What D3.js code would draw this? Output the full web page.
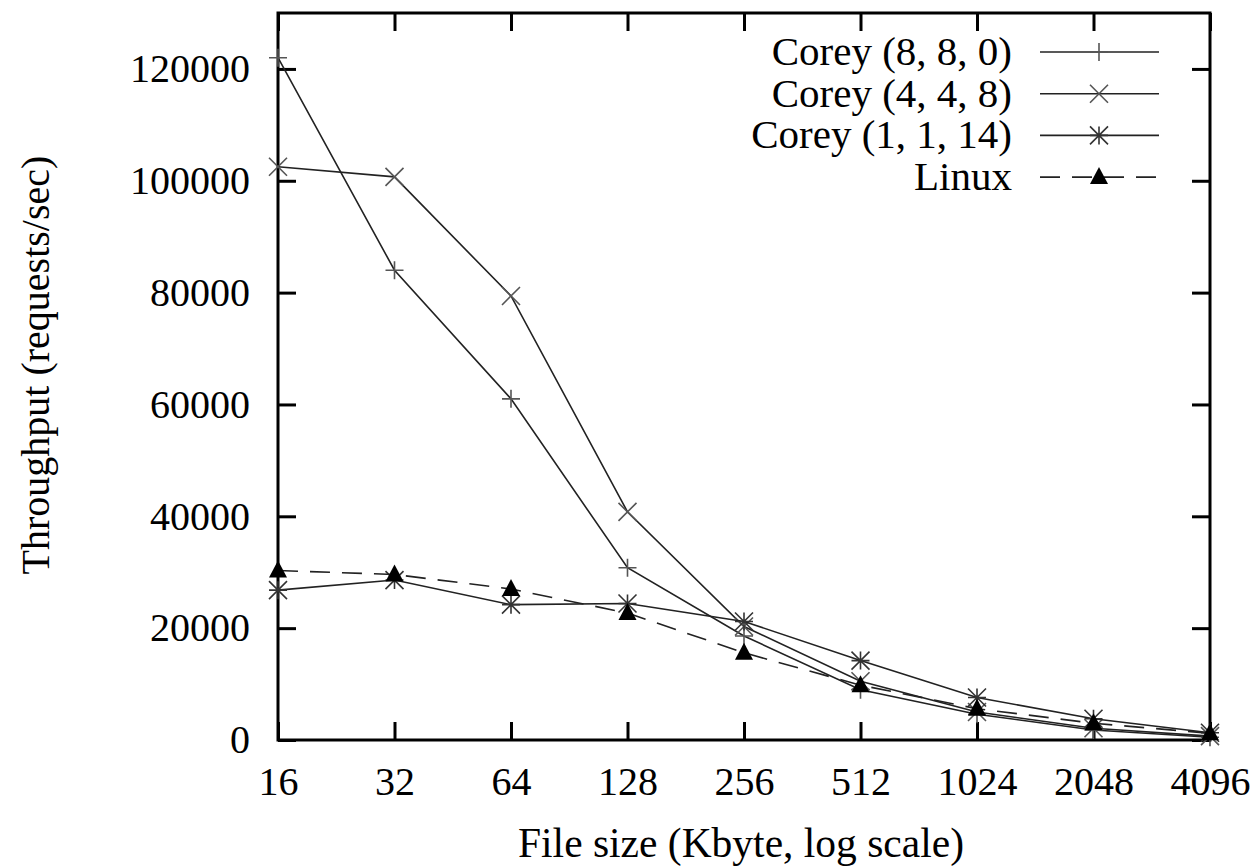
<!DOCTYPE html>
<html>
<head>
<meta charset="utf-8">
<script src="https://cdn.jsdelivr.net/npm/d3@7"></script>
<style>
  body { margin: 0; background: #fff; }
  svg { display: block; }
</style>
</head>
<body>
<div id="chart"></div>
<script>
// file sizes (Kbyte) and throughput (requests/sec)
const sizes = [16, 32, 64, 128, 256, 512, 1024, 2048, 4096]
const corey880 = [122000, 84000, 61000, 30800, 18600, 9000, 4600, 1800, 500]
const corey448 = [102500, 100700, 79400, 40800, 20300, 10500, 5000, 2100, 700]
const corey1114 = [26800, 28600, 24200, 24400, 21200, 14200, 7600, 3800, 1300]
const linux = [30300, 29600, 27000, 22700, 15600, 9800, 5600, 3000, 1200]
const yTicks = [0, 20000, 40000, 60000, 80000, 100000, 120000]

const series = [
  { name: 'Corey (8, 8, 0)', values: corey880, mark: 'plus', dash: null },
  { name: 'Corey (4, 4, 8)', values: corey448, mark: 'cross', dash: null },
  { name: 'Corey (1, 1, 14)', values: corey1114, mark: 'star', dash: null },
  { name: 'Linux', values: linux, mark: 'tri', dash: '20,12' }
]

const FONT = "'Liberation Serif', 'Times New Roman', Times, 'DejaVu Serif', serif"
const W = 1256, H = 868
const margin = { left: 278, right: 46, top: 13, bottom: 128 }
const width = W - margin.left - margin.right
const height = H - margin.top - margin.bottom

const svg = d3.select('#chart').append('svg').attr('width', W).attr('height', H)
  .attr('font-family', FONT)
const g = svg.append('g').attr('transform', `translate(${margin.left},${margin.top})`)

const x = d3.scaleLog().base(2).domain([16, 4096]).range([0, width])
const y = d3.scaleLinear().domain([0, 130000]).range([height, 0])

// marker shapes, gnuplot style
const markPath = {
  plus: 'M-9,0H9M0,-9V9',
  cross: 'M-9,-9L9,9M-9,9L9,-9',
  star: 'M-9,0H9M0,-9V9M-9,-9L9,9M-9,9L9,-9',
  tri: 'M0,-10L9,7H-9Z'
}

function styleAxis(sel) {
  sel.attr('font-family', FONT).attr('font-size', 40)
  sel.select('.domain').remove()
  sel.selectAll('.tick line').attr('stroke', '#000').attr('stroke-width', 3)
  sel.selectAll('.tick text').attr('fill', '#000')
}

g.append('g').attr('transform', `translate(0,${height})`)
  .call(d3.axisBottom(x).tickValues(sizes).tickFormat(d3.format('d')).tickSize(-18).tickPadding(27))
  .call(styleAxis)
g.append('g')
  .call(d3.axisTop(x).tickValues(sizes).tickFormat('').tickSize(-18))
  .call(styleAxis)
g.append('g')
  .call(d3.axisLeft(y).tickValues(yTicks).tickFormat(d3.format('d')).tickSize(-18).tickPadding(28))
  .call(styleAxis)
g.append('g').attr('transform', `translate(${width},0)`)
  .call(d3.axisRight(y).tickValues(yTicks).tickFormat('').tickSize(-18))
  .call(styleAxis)

g.append('rect').attr('width', width).attr('height', height)
  .attr('fill', 'none').attr('stroke', '#000').attr('stroke-width', 3)

const line = d3.line().x((d, i) => x(sizes[i])).y(d => y(d))

function drawMark(sel, s) {
  if (s.mark === 'tri') {
    sel.attr('d', markPath.tri).attr('fill', '#000').attr('stroke', 'none')
  } else {
    sel.attr('d', markPath[s.mark]).attr('fill', 'none')
      .attr('stroke', s.mark === 'star' ? '#333' : '#555').attr('stroke-width', 1.6)
  }
}

series.forEach(s => {
  g.append('path').datum(s.values).attr('d', line)
    .attr('fill', 'none').attr('stroke', '#222').attr('stroke-width', 1.6)
    .attr('stroke-dasharray', s.dash)
  g.selectAll(null).data(s.values).enter().append('path')
    .attr('transform', (d, i) => `translate(${x(sizes[i])},${y(d)})`)
    .call(drawMark, s)
})

// legend
const legend = svg.append('g')
series.forEach((s, i) => {
  const ly = 52 + i * 41.7
  legend.append('text').attr('x', 1012).attr('y', ly + 13).attr('text-anchor', 'end')
    .attr('font-size', 41).text(s.name)
  legend.append('line').attr('x1', 1040).attr('x2', 1159).attr('y1', ly).attr('y2', ly)
    .attr('stroke', '#222').attr('stroke-width', 1.6).attr('stroke-dasharray', s.dash)
  legend.append('path').attr('transform', `translate(1099,${ly})`).call(drawMark, s)
})

// axis titles
svg.append('text').attr('x', 741).attr('y', 857).attr('text-anchor', 'middle')
  .attr('font-size', 41.5).text('File size (Kbyte, log scale)')
svg.append('text').attr('transform', 'translate(49,365) rotate(-90)').attr('text-anchor', 'middle')
  .attr('font-size', 40).text('Throughput (requests/sec)')
</script>
</body>
</html>
